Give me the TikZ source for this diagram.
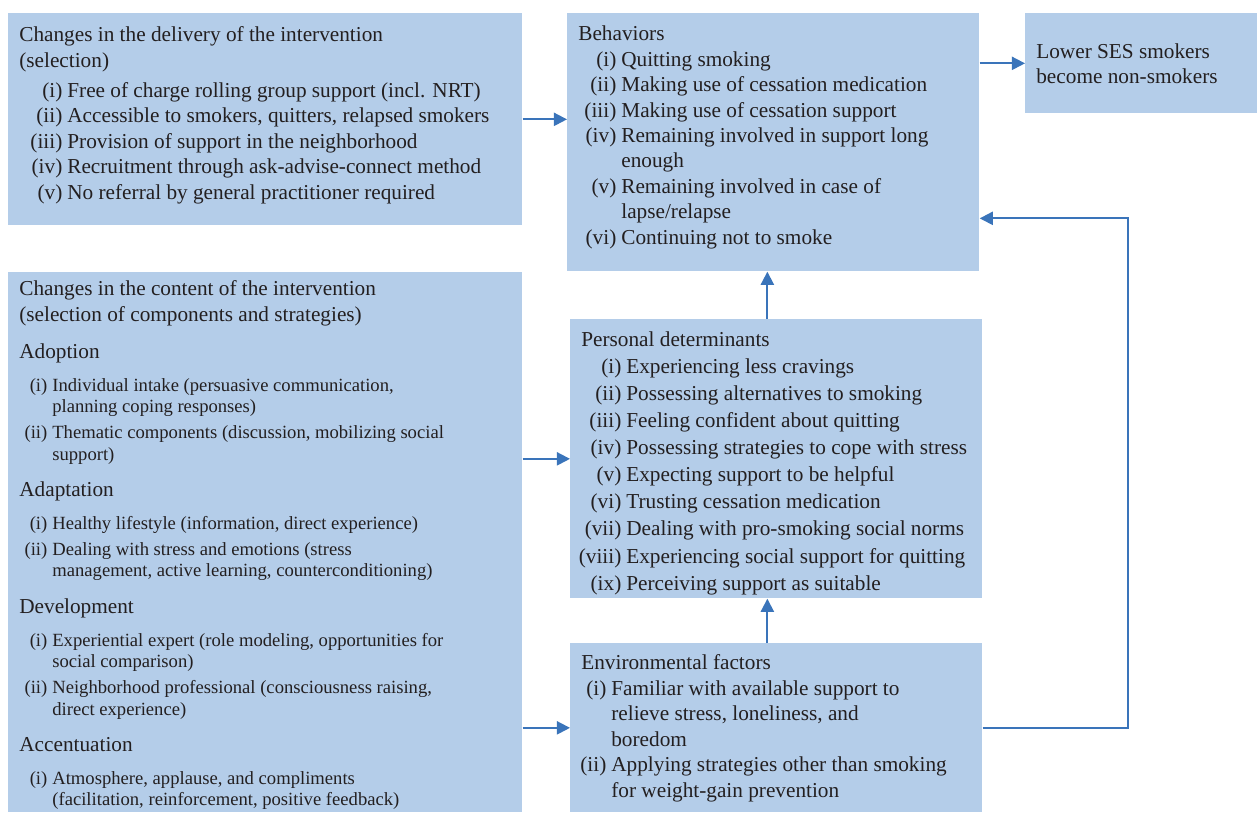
\documentclass[tikz,border=0pt]{standalone}
\usepackage{fontspec}
\setmainfont{Liberation Serif}
\usetikzlibrary{arrows.meta}

\definecolor{boxfill}{RGB}{180,205,233}
\definecolor{linkblue}{RGB}{58,116,186}
\definecolor{inktext}{RGB}{35,31,32}

\newlength\px \setlength\px{0.02cm}
\newlength\labw \newlength\labin \newlength\labgap \newlength\itmskip
\setlength\labgap{5\px}
\newcommand\mainsize{\fontsize{12.1}{14.5}\selectfont}
\newcommand\subsize{\fontsize{10.6}{12.2}\selectfont}
% label column: widest label, offset of the text column
\newcommand\setlab[2]{\settowidth\labw{#1}\setlength\labin{\dimexpr#2-\labw-\labgap\relax}}
\newcommand\itm[2]{\par\vspace{\itmskip}\hangindent=\dimexpr\labin+\labw+\labgap\relax\hangafter=1
  \noindent\hspace*{\labin}\makebox[\labw][r]{#1}\hspace*{\labgap}#2}
\newcommand\panelbox[4]{\begin{minipage}[t][#2][t]{#1}\mainsize\vspace*{#3}#4\par\end{minipage}}

\tikzset{
  panel/.style={fill=boxfill, anchor=north west, inner xsep=11\px, inner ysep=0pt, text=inktext},
  link/.style={draw=linkblue, line width=1.1pt, -{Triangle[length=7.5pt,width=7.5pt]}}
}

\begin{document}
\begin{tikzpicture}[x=0.02cm,y=-0.02cm]
        \useasboundingbox (0,0) rectangle (1257,813);

        % Delivery
        \node[panel] (deliv) at (8,13) {\panelbox{492\px}{212\px}{13.5\px}{%
          Changes in the delivery of the intervention\\
          (selection)\par\vspace{4.5\px}
          \setlab{(iii)}{48\px}
          \itm{(i)}{Free of charge rolling group support (incl. NRT)}
          \itm{(ii)}{Accessible to smokers, quitters, relapsed smokers}
          \itm{(iii)}{Provision of support in the neighborhood}
          \itm{(iv)}{Recruitment through ask-advise-connect method}
          \itm{(v)}{No referral by general practitioner required}}};

        % Behaviors
        \node[panel] (behav) at (567,13) {\panelbox{390\px}{258\px}{12.5\px}{%
          Behaviors
          \setlab{(iii)}{43\px}
          \itm{(i)}{Quitting smoking}
          \itm{(ii)}{Making use of cessation medication}
          \itm{(iii)}{Making use of cessation support}
          \itm{(iv)}{Remaining involved in support long\\enough}
          \itm{(v)}{Remaining involved in case of\\lapse/relapse}
          \itm{(vi)}{Continuing not to smoke}}};

        % Outcome
        \node[panel] (ses) at (1025,13) {\panelbox{210\px}{100\px}{30\px}{%
          Lower SES smokers\\
          become non-smokers}};

        % Content
        \node[panel] (content) at (8,272) {\panelbox{492\px}{540\px}{8.5\px}{%
          Changes in the content of the intervention\\
          (selection of components and strategies)\par
          \vspace{12\px}Adoption\par
          {\subsize\setlab{(ii)}{33\px}\setlength\itmskip{4.5\px}\vspace{6.5\px}
          \itm{(i)}{Individual intake (persuasive communication,\\planning coping responses)}
          \itm{(ii)}{Thematic components (discussion, mobilizing social\\support)}\par}
          \vspace{11.5\px}Adaptation\par
          {\subsize\setlab{(ii)}{33\px}\setlength\itmskip{4.5\px}\vspace{6.5\px}
          \itm{(i)}{Healthy lifestyle (information, direct experience)}
          \itm{(ii)}{Dealing with stress and emotions (stress\\management, active learning, counterconditioning)}\par}
          \vspace{11.5\px}Development\par
          {\subsize\setlab{(ii)}{33\px}\setlength\itmskip{4.5\px}\vspace{6.5\px}
          \itm{(i)}{Experiential expert (role modeling, opportunities for\\social comparison)}
          \itm{(ii)}{Neighborhood professional (consciousness raising,\\direct experience)}\par}
          \vspace{11.5\px}Accentuation\par
          {\subsize\setlab{(ii)}{33\px}\setlength\itmskip{4.5\px}\vspace{6.5\px}
          \itm{(i)}{Atmosphere, applause, and compliments\\(facilitation, reinforcement, positive feedback)}\par}}};

        % Personal determinants
        \node[panel] (person) at (570,319) {\panelbox{390\px}{279\px}{12.5\px}{%
          \fontsize{12.1}{15.4}\selectfont
          Personal determinants
          \setlab{(viii)}{45\px}
          \itm{(i)}{Experiencing less cravings}
          \itm{(ii)}{Possessing alternatives to smoking}
          \itm{(iii)}{Feeling confident about quitting}
          \itm{(iv)}{Possessing strategies to cope with stress}
          \itm{(v)}{Expecting support to be helpful}
          \itm{(vi)}{Trusting cessation medication}
          \itm{(vii)}{Dealing with pro-smoking social norms}
          \itm{(viii)}{Experiencing social support for quitting}
          \itm{(ix)}{Perceiving support as suitable}}};

        % Environmental factors
        \node[panel] (env) at (570,643) {\panelbox{390\px}{169\px}{11.5\px}{%
          Environmental factors
          \setlab{(ii)}{30\px}
          \itm{(i)}{Familiar with available support to\\relieve stress, loneliness, and\\boredom}
          \itm{(ii)}{Applying strategies other than smoking\\for weight-gain prevention}}};

        % Arrows
        \draw[link] (deliv.east) -- (deliv.east -| behav.west);
        \draw[link] (behav.east |- ses.west) -- (ses.west);
        \draw[link] ([xshift=-9\px]person.north) -- ([xshift=-9\px]person.north |- behav.south);
        \draw[link] ([xshift=-9\px]env.north) -- ([xshift=-9\px]env.north |- person.south);
        \draw[link] (content.east |- person.west) -- (person.west);
        \draw[link] (content.east |- env.west) -- (env.west);
        \draw[link] (env.east) -- ++(145,0) |- ([yshift=-76\px]behav.east);
\end{tikzpicture}
\end{document}
